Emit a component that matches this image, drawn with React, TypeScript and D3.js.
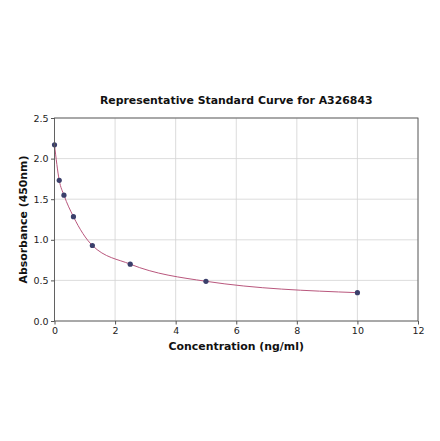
import { useEffect, useRef } from 'react';
import * as d3 from 'd3';

const concentrations = [0, 0.156, 0.3125, 0.625, 1.25, 2.5, 5, 10];
const absorbances = [2.17, 1.733, 1.55, 1.285, 0.93, 0.70, 0.489, 0.349];
const xTicks = [0, 2, 4, 6, 8, 10, 12];
const yTicks = [0, 0.5, 1.0, 1.5, 2.0, 2.5];

export default function App() {
  const svgRef = useRef<SVGSVGElement>(null);

  useEffect(() => {
    if (!svgRef.current) return;
    const width = 440;
    const height = 441;
    const margin = { top: 118, right: 22, bottom: 120, left: 54.5 };
    const innerWidth = width - margin.left - margin.right;
    const innerHeight = height - margin.top - margin.bottom;
    const font = 'DejaVu Sans, sans-serif';

    const svg = d3.select(svgRef.current);
    svg.selectAll('*').remove();
    svg.append('rect').attr('width', width).attr('height', height).attr('fill', '#ffffff');

    const g = svg.append('g').attr('transform', `translate(${margin.left},${margin.top})`);

    const x = d3.scaleLinear().domain([0, 12]).range([0, innerWidth]);
    const y = d3.scaleLinear().domain([0, 2.5]).range([innerHeight, 0]);

    // Grid lines
    g.append('g')
      .selectAll('line')
      .data(xTicks)
      .join('line')
      .attr('x1', d => x(d))
      .attr('x2', d => x(d))
      .attr('y1', 0)
      .attr('y2', innerHeight)
      .attr('stroke', '#d3d3d3')
      .attr('stroke-width', 0.8);

    g.append('g')
      .selectAll('line')
      .data(yTicks)
      .join('line')
      .attr('x1', 0)
      .attr('x2', innerWidth)
      .attr('y1', d => y(d))
      .attr('y2', d => y(d))
      .attr('stroke', '#d3d3d3')
      .attr('stroke-width', 0.8);

    // Curve
    const points = concentrations.map((c, i) => [c, absorbances[i]] as [number, number]);
    const line = d3.line<[number, number]>()
      .x(d => x(d[0]))
      .y(d => y(d[1]))
      .curve(d3.curveMonotoneX);

    g.append('path')
      .datum(points)
      .attr('d', line)
      .attr('fill', 'none')
      .attr('stroke', '#b9577d')
      .attr('stroke-width', 1);

    // Points
    g.selectAll('circle')
      .data(points)
      .join('circle')
      .attr('cx', d => x(d[0]))
      .attr('cy', d => y(d[1]))
      .attr('r', 2.6)
      .attr('fill', '#3b3f6b');

    // Frame
    g.append('rect')
      .attr('width', innerWidth)
      .attr('height', innerHeight)
      .attr('fill', 'none')
      .attr('stroke', '#555555')
      .attr('stroke-width', 0.9);

    // X axis
    const xAxis = g.append('g')
      .attr('transform', `translate(0,${innerHeight})`)
      .call(d3.axisBottom(x).tickValues(xTicks).tickFormat(d3.format('d')).tickSize(3.5).tickPadding(2.5));
    xAxis.select('.domain').remove();
    xAxis.selectAll('line').attr('stroke', '#555555');
    xAxis.selectAll('text').attr('font-family', font).attr('font-size', 9.5).attr('fill', '#222222');

    // Y axis
    const yAxis = g.append('g')
      .call(d3.axisLeft(y).tickValues(yTicks).tickFormat(d3.format('.1f')).tickSize(3.5).tickPadding(2.5));
    yAxis.select('.domain').remove();
    yAxis.selectAll('line').attr('stroke', '#555555');
    yAxis.selectAll('text').attr('font-family', font).attr('font-size', 9.5).attr('fill', '#222222');

    // Title
    svg.append('text')
      .attr('x', margin.left + innerWidth / 2)
      .attr('y', 104)
      .attr('text-anchor', 'middle')
      .attr('font-family', font)
      .attr('font-size', 10.9)
      .attr('font-weight', 'bold')
      .attr('fill', '#111111')
      .text('Representative Standard Curve for A326843');

    // Axis labels
    svg.append('text')
      .attr('x', margin.left + innerWidth / 2)
      .attr('y', 350)
      .attr('text-anchor', 'middle')
      .attr('font-family', font)
      .attr('font-size', 10.9)
      .attr('font-weight', 'bold')
      .attr('fill', '#111111')
      .text('Concentration (ng/ml)');

    svg.append('text')
      .attr('transform', `translate(26.5,${margin.top + innerHeight / 2}) rotate(-90)`)
      .attr('text-anchor', 'middle')
      .attr('font-family', font)
      .attr('font-size', 10.9)
      .attr('font-weight', 'bold')
      .attr('fill', '#111111')
      .text('Absorbance (450nm)');
  }, []);

  return (
    <svg
      ref={svgRef}
      width={440}
      height={441}
      style={{ position: 'absolute', left: 0, top: 0, display: 'block' }}
    />
  );
}
